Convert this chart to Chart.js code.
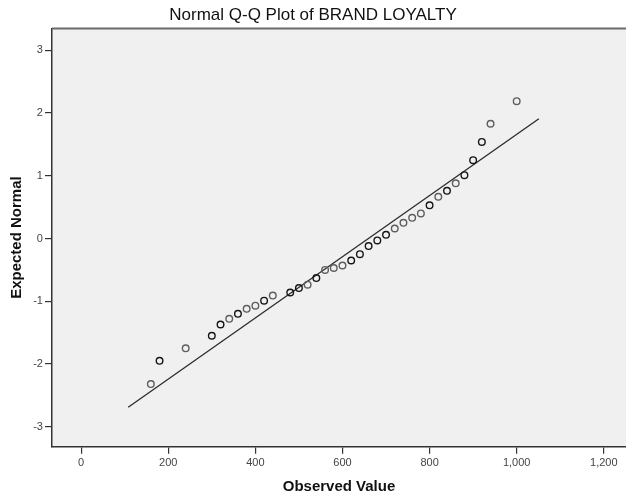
<!DOCTYPE html>
<html>
<head>
<meta charset="utf-8">
<title>Normal Q-Q Plot of BRAND LOYALTY</title>
<script src="https://cdn.jsdelivr.net/npm/chart.js@4.4.1/dist/chart.umd.min.js"></script>
<style>
    html, body { margin: 0; padding: 0; background: #ffffff; }
    #wrap { width: 626px; height: 499px; position: relative; }
</style>
</head>
<body>
<div id="wrap"><canvas id="qq"></canvas></div>
<script>
const observed = [160, 180, 240, 300, 320, 340, 360, 380, 400, 420, 440, 480, 500, 520,
    540, 560, 580, 600, 620, 640, 660, 680, 700, 720, 740, 760, 780, 800, 820, 840,
    860, 880, 900, 920, 940, 1000];
const expected = [-2.32, -1.95, -1.75, -1.55, -1.37, -1.28, -1.20, -1.12, -1.07, -0.99,
    -0.91, -0.86, -0.79, -0.735, -0.63, -0.50, -0.47, -0.43, -0.35, -0.25, -0.12, -0.03,
    0.06, 0.16, 0.25, 0.33, 0.40, 0.53, 0.665, 0.76, 0.88, 1.01, 1.25, 1.54, 1.83, 2.19];

// Reta de referência (extremos)
const lineX = [108, 1051];
const lineY = [-2.69, 1.91];

// Pontos que aparecem mais escuros (valores repetidos)
const darkPoints = [180, 300, 320, 360, 420, 480, 500, 540, 620, 640, 660, 680, 700, 800, 840, 880, 900, 920];

// Eixos
const xRange = [-67, 1251];
const yRange = [-3.32, 3.35];

const pointColors = observed.map(v => darkPoints.includes(v) ? '#161616' : '#5e5e5e');

// Fundo cinza da área do gráfico + linha superior
const plotBackground = {
    id: 'plotBackground',
    beforeDraw(chart) {
        const { ctx, chartArea: a } = chart;
        ctx.save();
        ctx.fillStyle = '#f0f0f0';
        ctx.fillRect(a.left, a.top, a.right - a.left, a.bottom - a.top);
        ctx.restore();
    },
    afterDraw(chart) {
        const { ctx, chartArea: a } = chart;
        ctx.save();
        ctx.strokeStyle = '#6b6b6b';
        ctx.lineWidth = 2;
        ctx.beginPath();
        ctx.moveTo(a.left, a.top);
        ctx.lineTo(a.right, a.top);
        ctx.stroke();
        ctx.restore();
    }
};

const ctx = document.getElementById('qq').getContext('2d');
new Chart(ctx, {
    type: 'scatter',
    data: {
        datasets: [
            {
                label: 'Observed',
                data: observed.map((x, i) => ({ x: x, y: expected[i] })),
                pointRadius: 3.3,
                pointHoverRadius: 3.3,
                pointBorderWidth: 1.4,
                pointBorderColor: pointColors,
                pointBackgroundColor: 'rgba(0,0,0,0)',
                order: 1
            },
            {
                type: 'line',
                label: 'Reference',
                data: lineX.map((x, i) => ({ x: x, y: lineY[i] })),
                borderColor: '#2b2b2b',
                borderWidth: 1.3,
                pointRadius: 0,
                fill: false,
                order: 2
            }
        ]
    },
    options: {
        responsive: true,
        maintainAspectRatio: false,
        animation: false,
        devicePixelRatio: 1,
        layout: { padding: 0, autoPadding: false },
        plugins: {
            legend: { display: false },
            tooltip: { enabled: false },
            title: {
                display: true,
                text: 'Normal Q-Q Plot of BRAND LOYALTY',
                color: '#111111',
                font: { family: 'Liberation Sans, Arial, sans-serif', size: 17, weight: 'normal' },
                padding: { top: 5, bottom: 3 }
            }
        },
        scales: {
            x: {
                type: 'linear',
                min: xRange[0],
                max: xRange[1],
                border: { display: true, color: '#333333', width: 1.5 },
                grid: { display: true, drawOnChartArea: false, drawTicks: true, tickLength: 7, color: '#333333', lineWidth: 1.2 },
                ticks: {
                    stepSize: 200,
                    includeBounds: false,
                    padding: 3,
                    maxRotation: 0,
                    color: '#444444',
                    font: { family: 'Liberation Sans, Arial, sans-serif', size: 11 },
                    callback: v => v.toLocaleString('en-US')
                },
                title: {
                    display: true,
                    text: 'Observed Value',
                    color: '#111111',
                    font: { family: 'Liberation Sans, Arial, sans-serif', size: 15, weight: 'bold' },
                    padding: { top: 5, bottom: 3 }
                }
            },
            y: {
                type: 'linear',
                min: yRange[0],
                max: yRange[1],
                border: { display: true, color: '#333333', width: 1.5 },
                grid: { display: true, drawOnChartArea: false, drawTicks: true, tickLength: 7, color: '#333333', lineWidth: 1.2 },
                ticks: {
                    stepSize: 1,
                    includeBounds: false,
                    padding: 2,
                    color: '#444444',
                    font: { family: 'Liberation Sans, Arial, sans-serif', size: 11 }
                },
                title: {
                    display: true,
                    text: 'Expected Normal',
                    color: '#111111',
                    font: { family: 'Liberation Sans, Arial, sans-serif', size: 15, weight: 'bold' },
                    padding: { top: 8, bottom: 5.2 }
                }
            }
        }
    },
    plugins: [plotBackground]
});
</script>
</body>
</html>
